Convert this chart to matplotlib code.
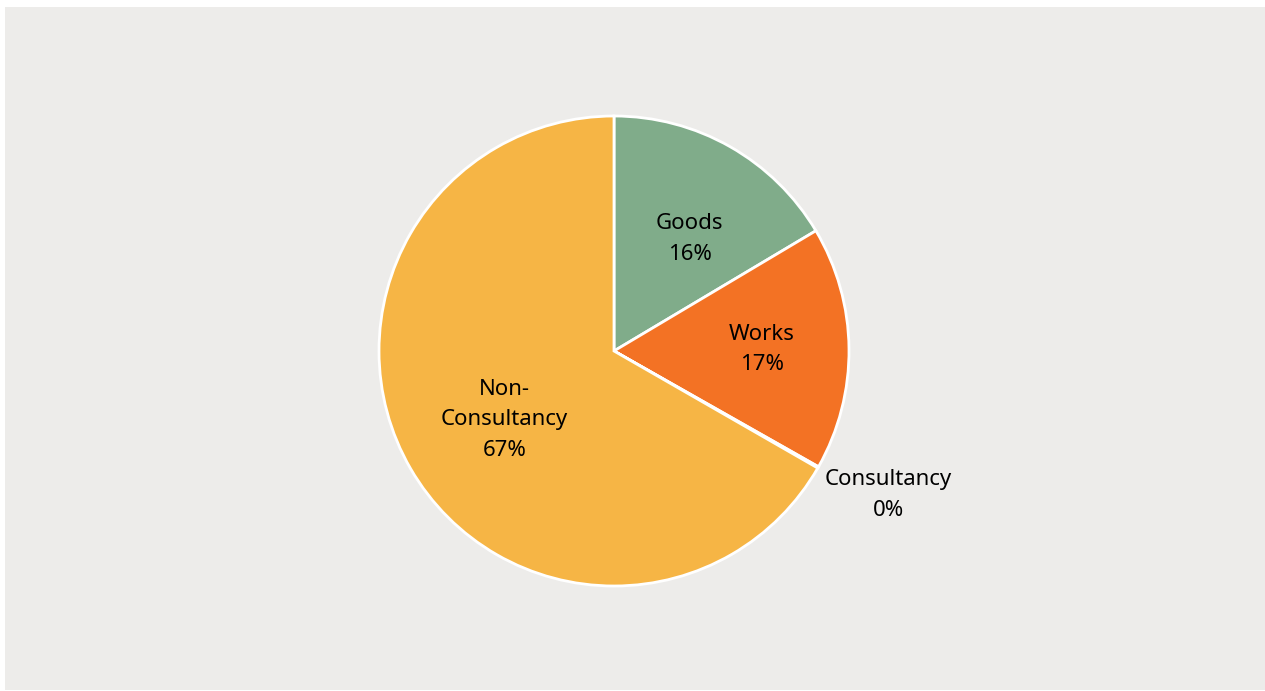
import numpy as np
import matplotlib.pyplot as plt
from matplotlib.patches import Rectangle

plt.rcParams['font.family'] = ['Noto Sans', 'DejaVu Sans']

# Procurement share by category (percent)
categories = ["Goods", "Works", "Consultancy", "Non-\nConsultancy"]
shares = [16.45, 16.75, 0.1, 66.7]
colors = ["#80AC8A", "#F37224", "#F37224", "#F6B545"]
# radial distance of each label from the centre (in pie radii)
label_dist = [0.575, 0.63, 1.32, 0.55]
label_shift = [-4.5, 0.0, 2.0, 2.0]  # small angular nudges in degrees

W, H = 1265, 691
fig = plt.figure(figsize=(W / 100, H / 100), dpi=100)
fig.patch.set_facecolor("white")

# light grey panel behind the chart
bg = fig.add_axes([0, 0, 1, 1])
bg.set_xlim(0, W)
bg.set_ylim(H, 0)
bg.axis("off")
bg.add_patch(Rectangle((5, 7), W - 5, 683, facecolor="#EDECEA", edgecolor="none"))

cx, cy, r = 614, 351, 235
ax = fig.add_axes([(cx - r) / W, (H - cy - r) / H, 2 * r / W, 2 * r / H])
ax.set_facecolor("none")

wedges, _ = ax.pie(shares, colors=colors, startangle=90, counterclock=False,
                   radius=1.0,
                   wedgeprops=dict(edgecolor="white", linewidth=2))
ax.set_xlim(-1, 1)
ax.set_ylim(-1, 1)
ax.set_aspect("equal")

total = sum(shares)
for w, name, val, d, sh in zip(wedges, categories, shares, label_dist, label_shift):
    mid = np.deg2rad((w.theta1 + w.theta2) / 2 + sh)
    ax.text(d * np.cos(mid), d * np.sin(mid),
            f"{name}\n{val / total * 100:.0f}%",
            ha="center", va="center", fontsize=16, color="black",
            linespacing=1.6, clip_on=False)

fig.savefig("out.png", dpi=100)
